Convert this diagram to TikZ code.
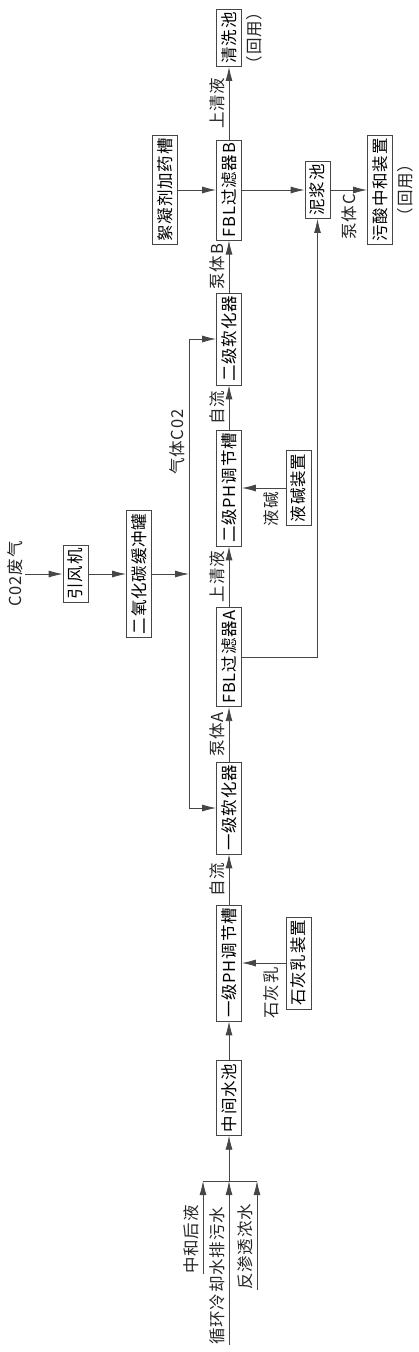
\documentclass[tikz,border=0pt]{standalone}
\usepackage{fontspec}
\setmainfont{Noto Sans CJK SC}[LetterSpace=5]
\usetikzlibrary{arrows.meta, math, positioning}
\definecolor{pgray}{RGB}{70,70,70}
\tikzset{
 box/.style={draw=pgray, line width=0.8pt, rotate=90, inner xsep=3pt, inner ysep=0pt, minimum height=25pt},
 lab/.style={rotate=90, inner sep=4pt, text=black!85},
 pipe/.style={draw=pgray, line width=0.8pt},
 flow/.style={pipe, -{Latex[length=14pt,width=7pt]}},
}
\begin{document}
\begin{tikzpicture}[x=1pt, y=-1pt, font=\fontsize{16.5}{17}\selectfont]

\tikzmath{
\xm = 229;%main line
\xs = 298.5;%dosing units
\xg = 189;%gas line
\xj = 317.5;%mud line
}
\useasboundingbox (0,0) rectangle (418,1352);

%main line:
\node[box] (zh) at (\xm,1098) {中间水池};
\node[box] (ph1) at (\xm,963) {一级PH调节槽};
\node[box] (rh1) at (\xm,808) {一级软化器};
\node[box] (fa) at (\xm,657) {FBL过滤器A};
\node[box] (ph2) at (\xm,488) {二级PH调节槽};
\node[box] (rh2) at (\xm,339) {二级软化器};
\node[box] (fb) at (\xm,190) {FBL过滤器B};
\node[box] (qx) at (\xm,38) {清洗池};
\node[lab, anchor=north] (qxr) at (qx.south) {（回用）};

%side units:
\node[box] (sh1) at (\xs,963) {石灰乳装置};
\node[box] (yj) at (\xs,488) {液碱装置};
\node[box] (xn) at (165,190) {絮凝剂加药槽};
\node[box] (nj) at (\xj,190) {泥浆池};
\node[box] (wz) at (380,190) {污酸中和装置};
\node[lab, anchor=north] (wzr) at (wz.south) {（回用）};
\node[box] (yf) at (75.5,574) {引风机};
\node[box] (hc) at (139,574) {二氧化碳缓冲罐};

%inputs:
\coordinate (bar) at (\xm,1181);
\coordinate (in1) at (203,1274);
\coordinate (in2) at (\xm,1345);
\coordinate (in3) at (257,1290);
\draw[pipe] (in1 |- bar) -- (in3 |- bar);
\foreach \c/\t in {in1/中和后液, in2/循环冷却水排污水, in3/反渗透浓水}{
 \draw[flow] (\c) -- (\c |- bar);
 \node[lab, anchor=south west, inner xsep=0pt] (\c-t) at (\c) {\t};
 }
\draw[flow] (bar) -- (zh);

\draw[flow] (zh) -- (ph1);
\draw[flow] (sh1) -- (ph1) node[lab, pos=0.33, anchor=east] {石灰乳};
\draw[flow] (ph1) -- (rh1) node[lab, midway, above] {自流};
\draw[flow] (rh1) -- (fa) node[lab, midway, above] {泵体A};
\draw[flow] (fa) -- (ph2) node[lab, midway, above] {上清液};
\draw[flow] (yj) -- (ph2) node[lab, pos=0.33, anchor=east] {液碱};
\draw[flow] (ph2) -- (rh2) node[lab, midway, above] {自流};
\draw[flow] (rh2) -- (fb) node[lab, midway, above] {泵体B};
\draw[flow] (fb) -- (qx) node[lab, midway, above] {上清液};
\draw[flow] (xn) -- (fb);
\draw[flow] (fb) -- (nj);
\draw[flow] (fa.south) -| (nj.west);
\draw[flow] (nj) -- (wz) node[lab, midway, anchor=east] {泵体C};

%gas:
\coordinate (co2) at (25,574);
\node[lab, anchor=south, inner sep=2pt] (co2-t) at (co2) {C02废气};
\coordinate (gas) at (\xg,574);
\draw[flow] (co2) -- (yf);
\draw[flow] (yf) -- (hc);
\draw[flow] (hc) -- (gas);
\draw[flow] (gas) |- (rh2) node[lab, pos=0.28, above] {气体C02};
\draw[flow] (gas) |- (rh1);

\end{tikzpicture}
\end{document}
